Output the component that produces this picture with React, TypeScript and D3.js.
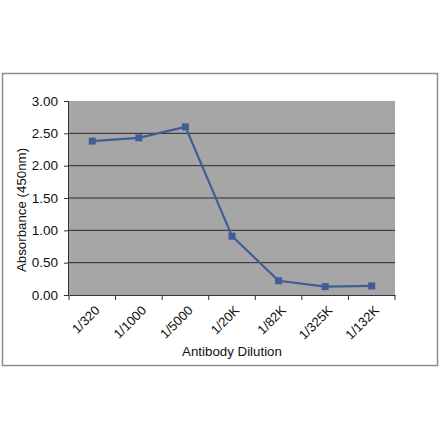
import { useEffect, useRef } from 'react';
import { select, scaleBand, scaleLinear, axisLeft, axisBottom, line, format } from 'd3';

const dilutions = ['1/320', '1/1000', '1/5000', '1/20K', '1/82K', '1/325K', '1/132K'];
const absorbance = [2.38, 2.43, 2.6, 0.91, 0.22, 0.13, 0.14];
const yTicks = [0, 0.5, 1, 1.5, 2, 2.5, 3];

export default function App() {
  const svgRef = useRef<SVGSVGElement>(null);

  useEffect(() => {
    if (!svgRef.current) return;
    const svg = select(svgRef.current);
    svg.selectAll('*').remove();

    const width = 440;
    const height = 441;
    const left = 69;
    const right = 395;
    const top = 101;
    const bottom = 295;

    svg.attr('width', width).attr('height', height);

    // outer frame
    svg.append('rect')
      .attr('x', 2.5).attr('y', 73.5)
      .attr('width', 435).attr('height', 292)
      .attr('fill', '#fff')
      .attr('stroke', '#8c8c8c')
      .attr('stroke-width', 1.5);

    const x = scaleBand<string>().domain(dilutions).range([left, right]);
    const y = scaleLinear().domain([0, 3]).range([bottom, top]);

    // plot background
    svg.append('rect')
      .attr('x', left).attr('y', top)
      .attr('width', right - left).attr('height', bottom - top)
      .attr('fill', '#a6a6a6');

    // gridlines
    svg.append('g')
      .selectAll('line')
      .data(yTicks.filter(d => d > 0 && d < 3))
      .join('line')
      .attr('x1', left).attr('x2', right)
      .attr('y1', d => y(d)).attr('y2', d => y(d))
      .attr('stroke', '#2a2a2a')
      .attr('stroke-width', 1);

    const font = "'Liberation Sans', Arial, sans-serif";

    // y axis
    const yAxis = svg.append('g')
      .attr('transform', `translate(${left},0)`)
      .call(axisLeft(y).tickValues(yTicks).tickFormat(format('.2f')).tickSize(5).tickPadding(6));
    yAxis.select('.domain').attr('stroke', '#333').attr('d', `M-0.5,${top}V${bottom}`);
    yAxis.selectAll('.tick line').attr('stroke', '#333');
    yAxis.selectAll('text').attr('font-family', font).attr('font-size', 13.5).attr('fill', '#111');

    // x axis
    const xAxis = svg.append('g')
      .attr('transform', `translate(0,${bottom})`)
      .call(axisBottom(x).tickSize(0).tickPadding(0));
    xAxis.select('.domain').attr('stroke', '#333');
    xAxis.selectAll('.tick line').remove();
    xAxis.selectAll('.tick text')
      .attr('font-family', font)
      .attr('font-size', 13)
      .attr('fill', '#111')
      .attr('text-anchor', 'end')
      .attr('dy', '0.35em')
      .attr('transform', 'translate(5,13) rotate(-45)');

    // tick marks at band boundaries
    svg.append('g')
      .selectAll('line')
      .data(dilutions.concat(['end']))
      .join('line')
      .attr('x1', (d, i) => left + i * x.bandwidth())
      .attr('x2', (d, i) => left + i * x.bandwidth())
      .attr('y1', bottom).attr('y2', bottom + 5)
      .attr('stroke', '#333');

    // data line
    const pts = dilutions.map((d, i) => ({ k: d, v: absorbance[i] }));
    const path = line<{ k: string; v: number }>()
      .x(d => (x(d.k) ?? 0) + x.bandwidth() / 2)
      .y(d => y(d.v));

    svg.append('path')
      .datum(pts)
      .attr('d', path)
      .attr('fill', 'none')
      .attr('stroke', '#3d5f94')
      .attr('stroke-width', 2.2);

    svg.append('g')
      .selectAll('rect')
      .data(pts)
      .join('rect')
      .attr('x', d => (x(d.k) ?? 0) + x.bandwidth() / 2 - 3.5)
      .attr('y', d => y(d.v) - 3.5)
      .attr('width', 7).attr('height', 7)
      .attr('fill', '#3d5f94');

    // axis titles
    svg.append('text')
      .attr('transform', `translate(26,210) rotate(-90)`)
      .attr('text-anchor', 'middle')
      .attr('font-family', font)
      .attr('font-size', 13.3)
      .attr('fill', '#111')
      .text('Absorbance (450nm)');

    svg.append('text')
      .attr('x', 232).attr('y', 356)
      .attr('text-anchor', 'middle')
      .attr('font-family', font)
      .attr('font-size', 13.3)
      .attr('fill', '#111')
      .text('Antibody Dilution');
  }, []);

  return <svg ref={svgRef} style={{ position: 'absolute', left: 0, top: 0 }} />;
}
